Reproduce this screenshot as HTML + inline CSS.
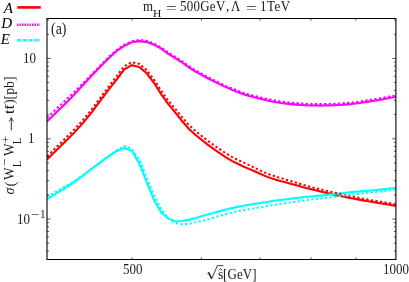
<!DOCTYPE html>
<html><head><meta charset="utf-8"><title>plot</title>
<style>
html,body{margin:0;padding:0;background:#fff;}
body{width:409px;height:282px;overflow:hidden;position:relative;font-family:"Liberation Serif",serif;color:#000;}
svg{position:absolute;left:0;top:0;}
.t{position:absolute;white-space:nowrap;line-height:1;font-size:13px;color:#1a1a1a;font-family:"Liberation Serif",serif;}
.i{font-style:italic;}
</style></head><body>
<svg width="409" height="282" viewBox="0 0 409 282">
<defs><clipPath id="c"><rect x="47.0" y="18.5" width="348.9" height="241.0"/></clipPath></defs>
<g clip-path="url(#c)" fill="none" stroke-linejoin="miter">
<path d="M47.00 159.60 L56.40 150.31 L65.58 141.37 L74.54 132.38 L83.29 122.61 L91.85 112.10 L100.22 100.78 L108.41 89.90 L116.42 79.80 L124.27 69.40 L131.97 65.15 L139.51 67.10 L146.90 73.50 L154.15 83.00 L161.27 94.33 L168.26 104.21 L175.12 112.45 L181.86 120.73 L188.48 128.48 L194.99 134.57 L201.39 139.67 L207.68 144.69 L213.88 149.21 L219.97 153.38 L225.97 157.36 L231.87 160.83 L237.68 163.80 L243.41 166.46 L249.05 168.90 L254.61 171.27 L260.09 173.77 L265.49 176.14 L270.81 178.13 L276.07 179.77 L281.25 181.17 L286.36 182.55 L291.40 183.98 L296.38 185.36 L301.29 186.68 L306.14 187.93 L310.93 189.14 L315.66 190.30 L320.33 191.44 L324.95 192.54 L329.51 193.61 L334.02 194.63 L338.47 195.60 L342.87 196.51 L347.22 197.39 L351.53 198.24 L355.78 199.09 L359.99 199.88 L364.15 200.62 L368.27 201.31 L372.34 201.97 L376.37 202.61 L380.36 203.24 L384.30 203.87 L388.21 204.52 L392.07 205.19 L395.90 205.90" stroke="#ff0000" stroke-width="2.1"/>
<path d="M47.00 121.50 L56.40 112.25 L65.58 103.46 L74.54 94.36 L83.29 84.80 L91.85 75.55 L100.22 66.74 L108.41 58.40 L116.42 51.11 L124.27 45.81 L131.97 42.32 L139.51 41.11 L146.90 42.11 L154.15 44.79 L161.27 48.66 L168.26 53.76 L175.12 58.03 L181.86 62.26 L188.48 67.03 L194.99 71.26 L201.39 74.86 L207.68 78.29 L213.88 81.40 L219.97 84.35 L225.97 87.16 L231.87 89.67 L237.68 92.03 L243.41 94.20 L249.05 95.90 L254.61 97.30 L260.09 98.73 L265.49 100.07 L270.81 101.19 L276.07 102.17 L281.25 103.01 L286.36 103.66 L291.40 104.16 L296.38 104.58 L301.29 104.93 L306.14 105.22 L310.93 105.44 L315.66 105.57 L320.33 105.60 L324.95 105.54 L329.51 105.41 L334.02 105.23 L338.47 105.00 L342.87 104.71 L347.22 104.37 L351.53 104.00 L355.78 103.54 L359.99 102.95 L364.15 102.28 L368.27 101.63 L372.34 101.04 L376.37 100.42 L380.36 99.73 L384.30 99.00 L388.21 98.27 L392.07 97.59 L395.90 97.00" stroke="#ff00ff" stroke-width="2.1"/>
<path d="M47.00 199.30 L56.40 193.43 L65.58 187.72 L74.54 181.90 L83.29 175.44 L91.85 168.74 L100.22 162.66 L108.41 156.50 L116.42 151.20 L124.27 147.90 L131.97 151.00 L139.51 164.00 L146.90 182.60 L154.15 200.30 L161.27 212.50 L168.26 218.60 L175.12 221.20 L181.86 221.00 L188.48 219.83 L194.99 218.17 L201.39 216.30 L207.68 214.50 L213.88 212.75 L219.97 211.12 L225.97 209.57 L231.87 208.11 L237.68 206.83 L243.41 205.72 L249.05 204.74 L254.61 203.87 L260.09 203.05 L265.49 202.19 L270.81 201.33 L276.07 200.55 L281.25 199.88 L286.36 199.28 L291.40 198.63 L296.38 197.97 L301.29 197.37 L306.14 196.88 L310.93 196.46 L315.66 196.06 L320.33 195.64 L324.95 195.15 L329.51 194.60 L334.02 194.02 L338.47 193.47 L342.87 192.97 L347.22 192.53 L351.53 192.14 L355.78 191.77 L359.99 191.42 L364.15 191.06 L368.27 190.70 L372.34 190.33 L376.37 189.95 L380.36 189.56 L384.30 189.15 L388.21 188.72 L392.07 188.27 L395.90 187.80" stroke="#00ffff" stroke-width="2.15"/>
<path d="M47.00 156.40 L56.40 147.12 L65.58 138.15 L74.54 129.24 L83.29 119.59 L91.85 109.19 L100.22 97.95 L108.41 86.88 L116.42 76.50 L124.27 66.20 L131.97 62.15 L139.51 64.00 L146.90 70.30 L154.15 79.70 L161.27 90.91 L168.26 100.64 L175.12 108.74 L181.86 116.89 L188.48 124.52 L194.99 130.56 L201.39 135.67 L207.68 140.69 L213.88 145.21 L219.97 149.38 L225.97 153.36 L231.87 156.83 L237.68 159.80 L243.41 162.46 L249.05 165.08 L254.61 167.75 L260.09 170.40 L265.49 172.85 L270.81 174.94 L276.07 176.69 L281.25 178.20 L286.36 179.67 L291.40 181.20 L296.38 182.72 L301.29 184.20 L306.14 185.64 L310.93 187.00 L315.66 188.23 L320.33 189.36 L324.95 190.47 L329.51 191.55 L334.02 192.59 L338.47 193.57 L342.87 194.48 L347.22 195.36 L351.53 196.28 L355.78 197.23 L359.99 198.15 L364.15 198.96 L368.27 199.70 L372.34 200.37 L376.37 201.01 L380.36 201.63 L384.30 202.25 L388.21 202.90 L392.07 203.57 L395.90 204.30" stroke="#ff0000" stroke-width="2.0" stroke-dasharray="2.3 2.3"/>
<path d="M47.00 117.90 L56.40 108.80 L65.58 100.27 L74.54 91.70 L83.29 82.89 L91.85 74.22 L100.22 65.63 L108.41 57.28 L116.42 49.97 L124.27 44.65 L131.97 41.14 L139.51 39.91 L146.90 40.91 L154.15 43.58 L161.27 47.44 L168.26 52.53 L175.12 56.79 L181.86 61.01 L188.48 65.78 L194.99 70.00 L201.39 73.59 L207.68 77.01 L213.88 80.12 L219.97 83.06 L225.97 85.87 L231.87 88.36 L237.68 90.69 L243.41 92.84 L249.05 94.50 L254.61 95.88 L260.09 97.28 L265.49 98.59 L270.81 99.69 L276.07 100.67 L281.25 101.51 L286.36 102.16 L291.40 102.66 L296.38 103.08 L301.29 103.43 L306.14 103.72 L310.93 103.94 L315.66 104.07 L320.33 104.10 L324.95 104.04 L329.51 103.91 L334.02 103.73 L338.47 103.50 L342.87 103.21 L347.22 102.87 L351.53 102.50 L355.78 102.04 L359.99 101.45 L364.15 100.78 L368.27 100.13 L372.34 99.54 L376.37 98.92 L380.36 98.23 L384.30 97.50 L388.21 96.77 L392.07 96.09 L395.90 95.50" stroke="#ff00ff" stroke-width="2.0" stroke-dasharray="2.3 2.3"/>
<path d="M47.00 196.70 L56.40 191.47 L65.58 186.13 L74.54 180.93 L83.29 174.92 L91.85 168.15 L100.22 162.14 L108.41 156.07 L116.42 150.20 L124.27 146.00 L131.97 148.90 L139.51 160.00 L146.90 178.40 L154.15 195.70 L161.27 209.20 L168.26 218.30 L175.12 222.90 L181.86 224.20 L188.48 223.90 L194.99 222.40 L201.39 221.03 L207.68 219.26 L213.88 217.45 L219.97 215.76 L225.97 214.17 L231.87 212.65 L237.68 211.32 L243.41 210.16 L249.05 209.13 L254.61 208.22 L260.09 207.34 L265.49 206.39 L270.81 205.43 L276.07 204.55 L281.25 203.78 L286.36 203.08 L291.40 202.35 L296.38 201.58 L301.29 200.81 L306.14 200.15 L310.93 199.62 L315.66 199.14 L320.33 198.66 L324.95 198.10 L329.51 197.46 L334.02 196.78 L338.47 196.12 L342.87 195.51 L347.22 194.96 L351.53 194.47 L355.78 194.01 L359.99 193.57 L364.15 193.14 L368.27 192.73 L372.34 192.32 L376.37 191.90 L380.36 191.48 L384.30 191.04 L388.21 190.58 L392.07 190.10 L395.90 189.60" stroke="#00ffff" stroke-width="2.0" stroke-dasharray="2.3 2.3"/>
</g>
<g stroke="#111" stroke-width="0.7" fill="none">
<path d="M132.0 259.5 v-2.2 M132.0 18.5 v2.2"/>
<path d="M201.4 259.5 v-2.2 M201.4 18.5 v2.2"/>
<path d="M260.1 259.5 v-2.2 M260.1 18.5 v2.2"/>
<path d="M310.9 259.5 v-2.2 M310.9 18.5 v2.2"/>
<path d="M355.8 259.5 v-2.2 M355.8 18.5 v2.2"/>
<path d="M47.0 251.0 h2.0 M395.9 251.0 h-2.0"/>
<path d="M47.0 243.2 h2.0 M395.9 243.2 h-2.0"/>
<path d="M47.0 236.9 h2.0 M395.9 236.9 h-2.0"/>
<path d="M47.0 231.5 h2.0 M395.9 231.5 h-2.0"/>
<path d="M47.0 226.8 h2.0 M395.9 226.8 h-2.0"/>
<path d="M47.0 222.7 h2.0 M395.9 222.7 h-2.0"/>
<path d="M47.0 219.1 h3.6 M395.9 219.1 h-3.6"/>
<path d="M47.0 194.9 h2.0 M395.9 194.9 h-2.0"/>
<path d="M47.0 180.7 h2.0 M395.9 180.7 h-2.0"/>
<path d="M47.0 170.7 h2.0 M395.9 170.7 h-2.0"/>
<path d="M47.0 162.9 h2.0 M395.9 162.9 h-2.0"/>
<path d="M47.0 156.6 h2.0 M395.9 156.6 h-2.0"/>
<path d="M47.0 151.2 h2.0 M395.9 151.2 h-2.0"/>
<path d="M47.0 146.5 h2.0 M395.9 146.5 h-2.0"/>
<path d="M47.0 142.4 h2.0 M395.9 142.4 h-2.0"/>
<path d="M47.0 138.8 h3.6 M395.9 138.8 h-3.6"/>
<path d="M47.0 114.6 h2.0 M395.9 114.6 h-2.0"/>
<path d="M47.0 100.4 h2.0 M395.9 100.4 h-2.0"/>
<path d="M47.0 90.4 h2.0 M395.9 90.4 h-2.0"/>
<path d="M47.0 82.6 h2.0 M395.9 82.6 h-2.0"/>
<path d="M47.0 76.3 h2.0 M395.9 76.3 h-2.0"/>
<path d="M47.0 70.9 h2.0 M395.9 70.9 h-2.0"/>
<path d="M47.0 66.2 h2.0 M395.9 66.2 h-2.0"/>
<path d="M47.0 62.1 h2.0 M395.9 62.1 h-2.0"/>
<path d="M47.0 58.5 h3.6 M395.9 58.5 h-3.6"/>
<path d="M47.0 34.3 h2.0 M395.9 34.3 h-2.0"/>
<path d="M47.0 20.1 h2.0 M395.9 20.1 h-2.0"/>
</g>
<g fill="none">
<path d="M46.5 18.5 H396.4 M46.5 259.5 H396.4" stroke="#000" stroke-width="1"/>
<path d="M47.0 18.5 V259.5" stroke="#000" stroke-width="1.1"/>
<path d="M395.9 18.5 V259.5" stroke="#000" stroke-width="1.1"/>
</g>
<g fill="none" stroke-width="2.6">
<path d="M17.3 7.4 H40.8" stroke="#ff0000"/>
<path d="M17 24.7 H40" stroke="#ff00ff" stroke-dasharray="1.5 1.0"/>
<path d="M17.2 40.2 H40" stroke="#00ffff" stroke-dasharray="3.1 0.9 1.1 0.9"/>
</g>
<g fill="none" stroke="#1a1a1a" stroke-width="0.8">
<path d="M207.4 273.5 L208.8 272.5 M211.7 278.8 L217.4 265.6 H223.3" stroke-width="0.85"/>
<path d="M208.6 272.4 L211.6 278.6" stroke-width="1.5"/>
<path d="M218.8 270.5 L220.5 268.5 L222.2 270.5" stroke-width="0.8"/>
<path d="M11.3 130.5 V118 M8.8 121.2 Q11.0 120.1 11.3 117.6 Q11.6 120.1 13.8 121.2" stroke-width="0.9"/>
<path d="M5.6 104.2 V108.4" stroke-width="0.7"/>
</g>
</svg>
<div id="tw" style="position:absolute;left:0;top:0;width:409px;height:282px;will-change:transform;">
<div class="t i" id="lA" style="left:3.70px;top:1.04px;font-size:15.00px;color:#000;">A</div>
<div class="t i" id="lD" style="left:1.20px;top:16.44px;font-size:15.00px;color:#000;">D</div>
<div class="t i" id="lE" style="left:0.80px;top:32.24px;font-size:15.00px;color:#000;">E</div>
<div class="t" id="pa" style="left:51.20px;top:21.03px;font-size:15.84px;transform-origin:0 50%;transform:scaleX(0.88);">(a)</div>
<div class="t" id="t1" style="left:142.60px;top:-1.36px;font-size:14.40px;transform-origin:0 50%;transform:scaleX(0.9);">m</div>
<div class="t" id="t2" style="left:152.80px;top:8.52px;font-size:10.00px;transform-origin:0 50%;transform:scaleX(1.15);">H</div>
<div class="t" id="t3" style="left:165.60px;top:0.64px;font-size:14.40px;transform-origin:0 50%;transform:scaleX(1.3);">=</div>
<div class="t" id="t4" style="left:179.80px;top:-1.36px;font-size:14.40px;transform-origin:0 50%;transform:scaleX(0.9);letter-spacing:0.3px;">500GeV</div>
<div class="t" id="t4c" style="left:226.20px;top:-1.36px;font-size:14.40px;transform-origin:0 50%;transform:scaleX(0.9);">,</div>
<div class="t" id="t5" style="left:231.30px;top:-1.36px;font-size:14.40px;transform-origin:0 50%;transform:scaleX(0.9);">Λ</div>
<div class="t" id="t6" style="left:245.60px;top:0.64px;font-size:14.40px;transform-origin:0 50%;transform:scaleX(1.3);">=</div>
<div class="t" id="t7" style="left:260.40px;top:-1.36px;font-size:14.40px;transform-origin:0 50%;transform:scaleX(0.9);letter-spacing:0.55px;">1TeV</div>
<div class="t" id="y10" style="left:23.30px;top:50.54px;font-size:14.40px;transform-origin:0 50%;transform:scaleX(0.9);">10</div>
<div class="t" id="y1" style="left:28.30px;top:130.84px;font-size:14.40px;transform-origin:0 50%;transform:scaleX(0.9);">1</div>
<div class="t" id="y01" style="left:16.80px;top:211.54px;font-size:14.40px;transform-origin:0 50%;transform:scaleX(0.9);">10</div>
<div class="t" id="y01m" style="left:30.50px;top:208.73px;font-size:12.50px;transform-origin:0 50%;transform:scaleX(1.15);">−</div>
<div class="t" id="y01s" style="left:39.50px;top:207.71px;font-size:12.52px;transform-origin:0 50%;transform:scaleX(0.9);">1</div>
<div class="t" id="x500" style="left:122.80px;top:261.54px;font-size:14.40px;transform-origin:0 50%;transform:scaleX(0.9);">500</div>
<div class="t" id="x1000" style="left:382.90px;top:261.54px;font-size:14.40px;transform-origin:0 50%;transform:scaleX(0.9);">1000</div>
<div class="t" id="xs" style="left:217.80px;top:265.61px;font-size:15.51px;transform-origin:0 50%;transform:scaleX(0.9);">s</div>
<div class="t" id="xg" style="left:222.80px;top:266.54px;font-size:14.40px;transform-origin:0 50%;transform:scaleX(0.9);letter-spacing:0.15px;">[GeV]</div>
<div class="t" id="yl" style="left:0;top:0;width:0;height:0;transform:translate(14.3px,195.0px) rotate(-90deg);transform-origin:0 0;"><div style="position:absolute;left:0;top:0;"><div class="t i" style="left:0.60px;top:-10.53px;font-size:14.00px;">σ</div><div class="t" style="left:8.60px;top:-11.36px;font-size:15.00px;">(</div><div class="t" style="left:14.60px;top:-12.06px;font-size:14.40px;transform-origin:0 50%;transform:scaleX(0.93);">W</div><div class="t" style="left:28.20px;top:-2.87px;font-size:12.50px;transform-origin:0 50%;transform:scaleX(0.8);">L</div><div class="t" style="left:29.00px;top:-15.07px;font-size:12.50px;">−</div><div class="t" style="left:39.10px;top:-12.06px;font-size:14.40px;transform-origin:0 50%;transform:scaleX(0.93);">W</div><div class="t" style="left:51.30px;top:-2.87px;font-size:12.50px;transform-origin:0 50%;transform:scaleX(0.8);">L</div><div class="t" style="left:51.90px;top:-14.07px;font-size:12.50px;">+</div><div class="t" style="left:81.40px;top:-12.06px;font-size:14.40px;transform-origin:0 50%;transform:scaleX(1.1);letter-spacing:0.4px;">tt</div><div class="t" style="left:90.60px;top:-12.06px;font-size:14.40px;transform-origin:0 50%;transform:scaleX(0.96);">)[pb]</div></div></div>
</div>
</body></html>
